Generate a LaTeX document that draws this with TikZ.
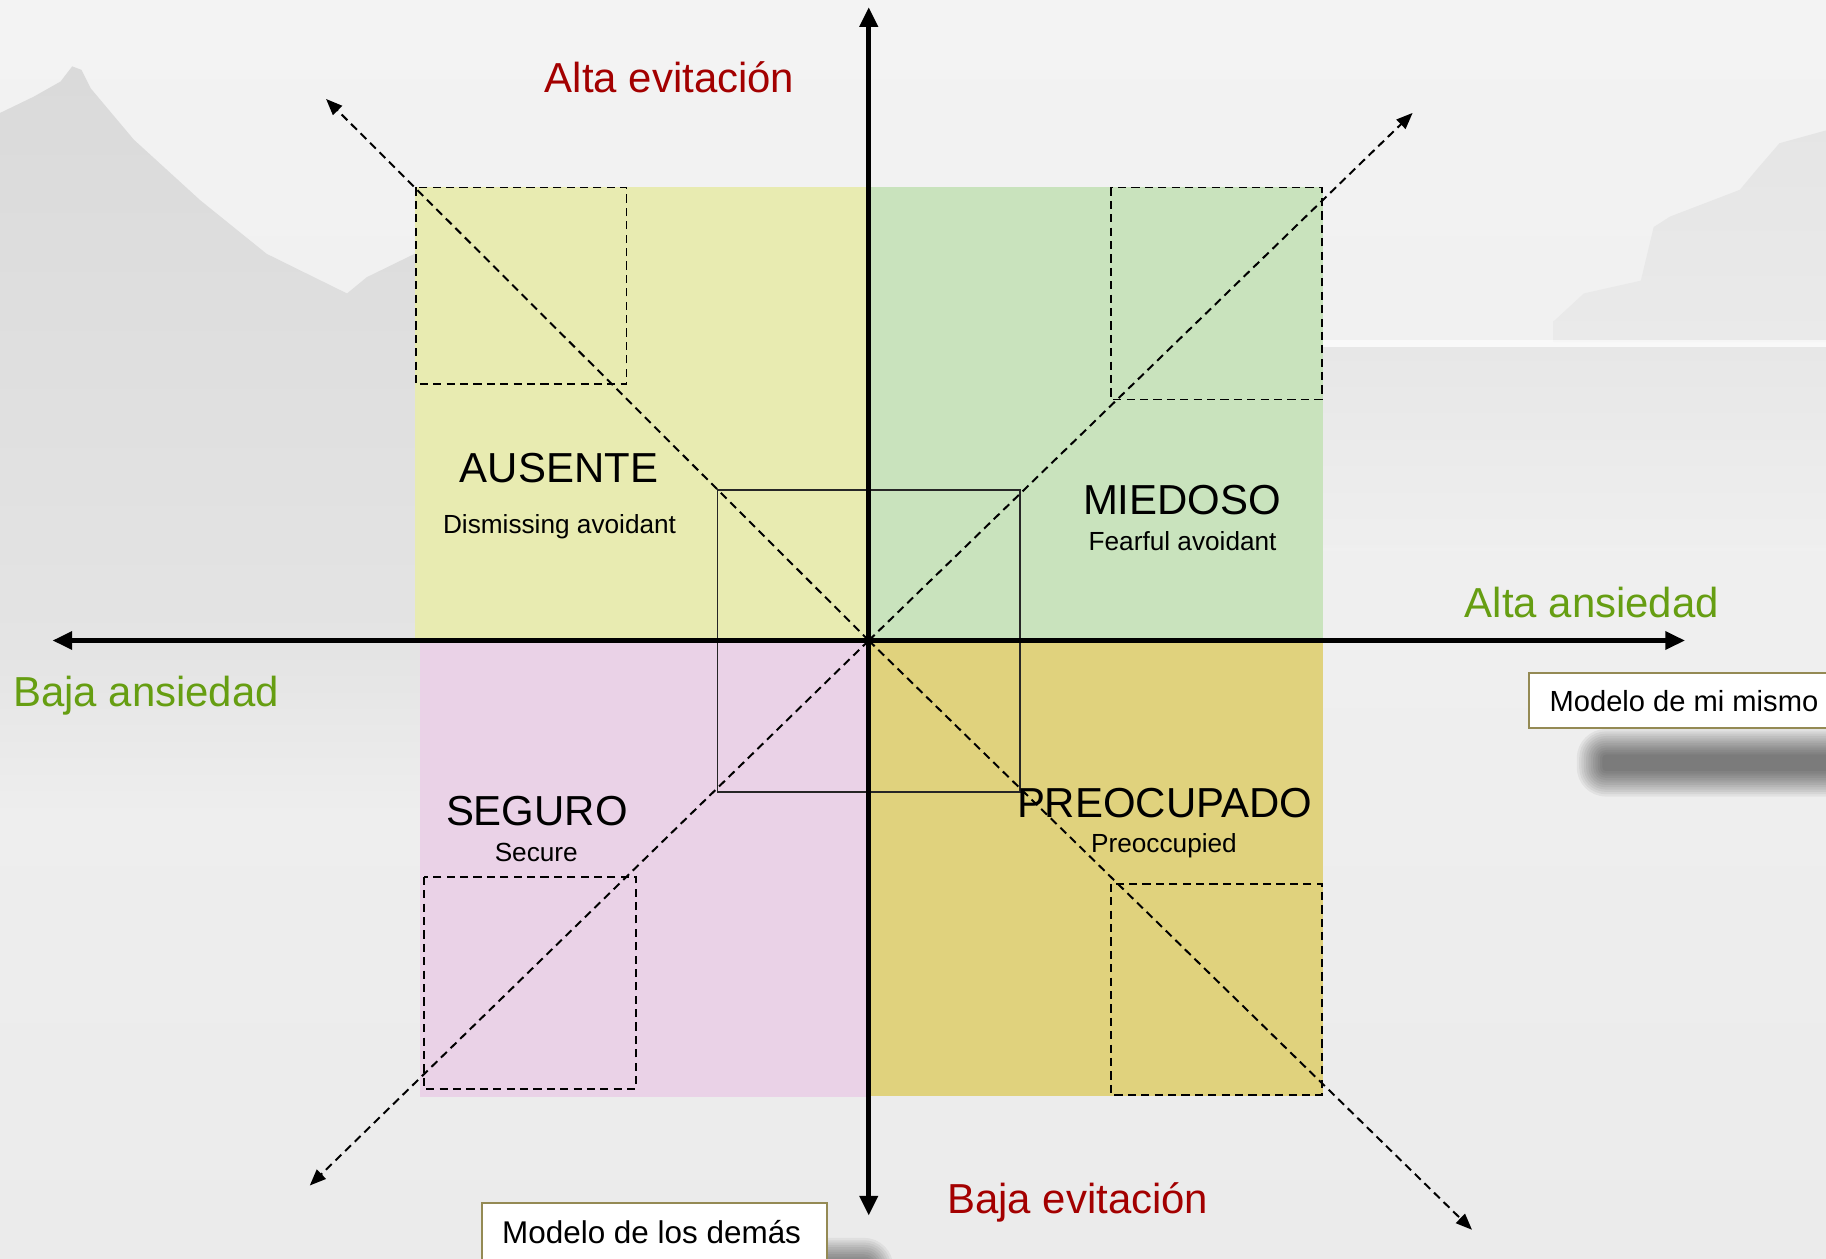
\documentclass[tikz,border=0pt]{standalone}
\usepackage{fontspec}
\setmainfont{Liberation Sans}
\usetikzlibrary{arrows.meta}
\definecolor{qyel}{HTML}{E8EBB1}
\definecolor{qgrn}{HTML}{C9E3BD}
\definecolor{qpnk}{HTML}{EAD2E7}
\definecolor{qgld}{HTML}{E0D27D}
\definecolor{axred}{HTML}{A30000}
\definecolor{axgrn}{HTML}{669E12}
\definecolor{boxbrd}{HTML}{948A54}
\definecolor{bgtop}{HTML}{F3F3F3}
\definecolor{bgmid}{HTML}{E4E4E4}
\definecolor{bgbot}{HTML}{EBEBEB}
\definecolor{bglow}{HTML}{EEEEEE}
\definecolor{mtn}{HTML}{DADADA}
\tikzset{
  mainaxis/.style={line width=4.3pt, -{Triangle[length=17pt,width=15pt]}},
  diagarrow/.style={line width=1.7pt, dash pattern=on 7pt off 4.5pt, -{Triangle[length=14pt,width=11pt]}},
  dashbox/.style={line width=1.6pt, dash pattern=on 7pt off 4.5pt},
  solidbox/.style={line width=1.4pt, draw=black!85},
  qtitle/.style={font=\fontsize{36}{40}\selectfont, anchor=base, inner sep=0pt},
  qsub/.style={font=\fontsize{22.5}{26}\selectfont, anchor=base, inner sep=0pt},
  axlabred/.style={font=\fontsize{36}{40}\selectfont, anchor=base, inner sep=0pt, text=axred},
  axlabgrn/.style={font=\fontsize{36}{40}\selectfont, anchor=base, inner sep=0pt, text=axgrn},
  mbox/.style={draw=boxbrd, line width=1.6pt, fill=white},
  mtext/.style={anchor=base west, inner sep=0pt},
}
\begin{document}
\begin{tikzpicture}[x=1pt,y=-1pt]
\useasboundingbox (0,0) rectangle (1568,1081);
\clip (0,0) rectangle (1568,1081);
% background
\shade[top color=bgtop, bottom color=bgbot] (0,0) rectangle (1568,1081);
\shade[top color=mtn, bottom color=bgmid] (0,97) -- (29,83) -- (52,70) -- (62,57) -- (70,60) -- (78,76) -- (115,120) -- (172,172) -- (229,218) -- (298,252) -- (315,238) -- (356,218) -- (430,205) -- (430,560) -- (0,560) -- cycle;
\shade[top color=bgmid, bottom color=bglow] (0,559) rectangle (362,700);
\shade[top color=mtn!55!bgtop, bottom color=bgmid!60!bgtop] (1334,276) -- (1360,252) -- (1409,241) -- (1420,195) -- (1434,186) -- (1494,163) -- (1509,145) -- (1528,123) -- (1568,112) -- (1568,294) -- (1334,294) -- cycle;
\shade[top color=bgmid!80!bgtop, bottom color=bgtop!45!bgbot] (1136,298) rectangle (1568,470);
\fill[white, opacity=0.6] (1136,292) rectangle (1568,298);
% quadrants
\fill[qyel] (356,161) rectangle (746,550);
\fill[qgrn] (746,161) rectangle (1136,550);
\fill[qpnk] (361,550) rectangle (746,942);
\fill[qgld] (746,550) rectangle (1136,941);
% dashed corner boxes
\draw[dashbox] (357,161) rectangle (538,330);
\draw[dashbox] (954,161) rectangle (1135,343);
\draw[dashbox] (364,753) rectangle (546,935);
\draw[dashbox] (954,759) rectangle (1135,940);
% central solid box
\draw[solidbox] (616,421) rectangle (876,680);
% coordinates
\coordinate (O) at (746,550);
\coordinate (tl) at (280,85);
\coordinate (tr) at (1213,97);
\coordinate (bl) at (266,1018);
\coordinate (br) at (1264,1056);
\coordinate (atop) at (746,6);
\coordinate (abot) at (746,1044);
\coordinate (aleft) at (45,550);
\coordinate (aright) at (1447,550);
% diagonals
\draw[diagarrow] (O) -- (tl);
\draw[diagarrow] (O) -- (tr);
\draw[diagarrow] (O) -- (bl);
\draw[diagarrow] (O) -- (br);
% axes
\draw[mainaxis] (O) -- (atop);
\draw[mainaxis] (O) -- (abot);
\draw[mainaxis] (O) -- (aleft);
\draw[mainaxis] (O) -- (aright);
% axis labels
\node[axlabred] (altaev) at (575,79.5) {Alta evitación};
\node[axlabred] (bajaev) at (925.5,1042) {Baja evitación};
\node[axlabgrn] (altaan) at (1367,530) {Alta ansiedad};
\node[axlabgrn] (bajaan) at (125.5,607) {Baja ansiedad};
% quadrant labels
\node[qtitle] (aus) at (480,414) {AUSENTE};
\node[qsub] (aussub) at (480.5,458) {Dismissing avoidant};
\node[qtitle] (mie) at (1015,441.5) {MIEDOSO};
\node[qsub] (miesub) at (1015.5,472.5) {Fearful avoidant};
\node[qtitle] (seg) at (461,709) {SEGURO};
\node[qsub] (segsub) at (460.5,740) {Secure};
\node[qtitle] (pre) at (1000,702) {PREOCUPADO};
\node[qsub] (presub) at (999.5,732) {Preoccupied};
% shadows
\foreach \i in {0,...,11}{
  \pgfmathsetmacro\rr{\i*2+3}
  \fill[black, opacity=0.05, rounded corners=\rr pt] (1376-\i*2,648-\i*2) rectangle (1640+\i*2,662+\i*2);
  \fill[black, opacity=0.05, rounded corners=\rr pt] (450-\i*2,1085-\i*2) rectangle (745+\i*2,1125+\i*2);
}
% model boxes
\draw[mbox] (1313,577.6) rectangle (1640,625);
\node[mtext, font=\fontsize{25}{29}\selectfont] (mimismo) at (1330.5,611) {Modelo de mi mismo};
\draw[mbox] (414,1033) rectangle (710,1100);
\node[mtext, font=\fontsize{27}{31}\selectfont] (losdemas) at (431,1067.7) {Modelo de los demás};
\end{tikzpicture}
\end{document}
